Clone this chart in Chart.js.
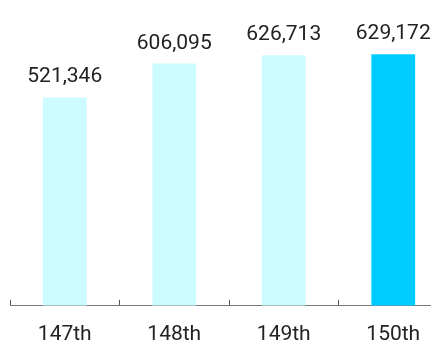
<!DOCTYPE html>
<html>
<head>
<meta charset="utf-8">
<script src="https://cdn.jsdelivr.net/npm/chart.js@4/dist/chart.umd.min.js"></script>
<style>
  html, body { margin: 0; padding: 0; background: #fff; overflow: hidden; }
  #wrap { position: relative; width: 448px; height: 375px; }
</style>
</head>
<body>
<div id="wrap"><canvas id="chart"></canvas></div>
<script>
// Данные графика
const categories = ['147th', '148th', '149th', '150th'];
const values = [521346, 606095, 626713, 629172];
const barColors = ['#ccfcff', '#ccfcff', '#ccfcff', '#00ccff'];

// Подписи значений над столбцами
const valueLabels = {
  id: 'valueLabels',
  afterDatasetsDraw(chart) {
    const ctx = chart.ctx;
    const meta = chart.getDatasetMeta(0);
    ctx.save();
    ctx.font = '21px Roboto';
    ctx.fillStyle = '#222';
    ctx.textAlign = 'center';
    ctx.textBaseline = 'alphabetic';
    meta.data.forEach((bar, i) => {
      ctx.fillText(values[i].toLocaleString('en-US'), bar.x, bar.y - 15);
    });
    ctx.restore();
  }
};

new Chart(document.getElementById('chart'), {
  type: 'bar',
  data: {
    labels: categories,
    datasets: [{
      data: values,
      backgroundColor: barColors,
      categoryPercentage: 0.4,
      barPercentage: 1
    }]
  },
  options: {
    responsive: true,
    maintainAspectRatio: false,
    animation: false,
    layout: { padding: { left: 10, right: 0, top: 6, bottom: 6 } },
    plugins: { legend: { display: false }, tooltip: { enabled: false } },
    scales: {
      x: {
        grid: {
          offset: true,
          drawOnChartArea: false,
          tickLength: -6,
          color: '#555'
        },
        border: { color: '#777', width: 1 },
        ticks: { color: '#222', font: { family: 'Roboto', size: 21 }, padding: 22 }
      },
      y: { display: false, min: 0, max: 750000 }
    }
  },
  plugins: [valueLabels]
});
</script>
</body>
</html>
